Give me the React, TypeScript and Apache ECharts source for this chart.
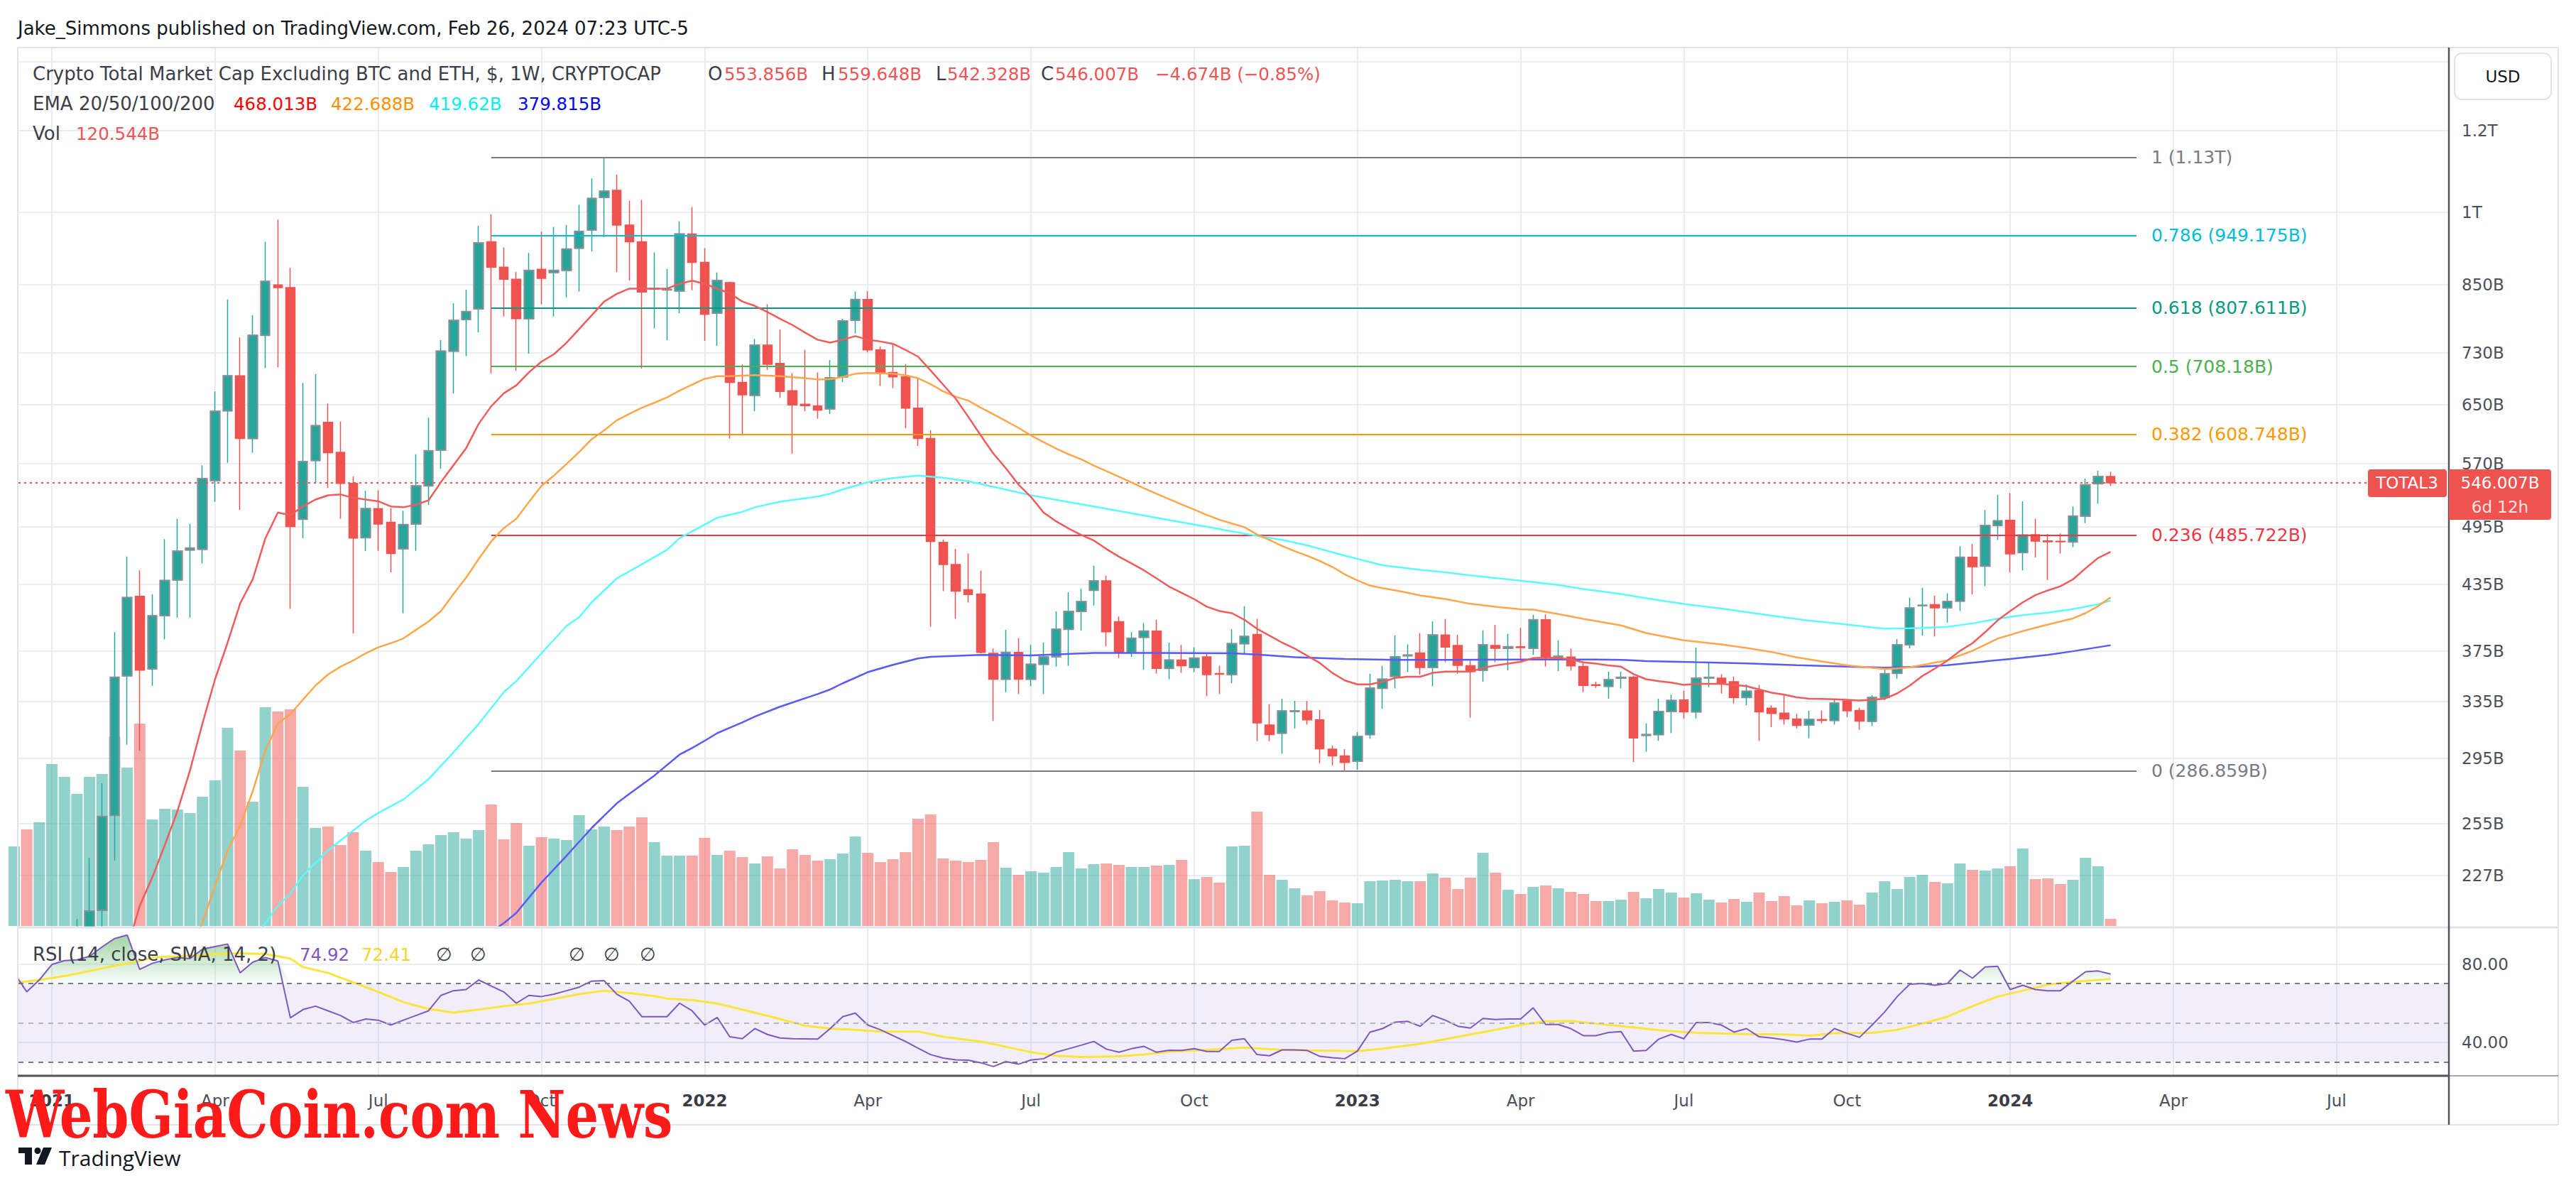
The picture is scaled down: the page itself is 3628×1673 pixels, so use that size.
import React, { useEffect, useRef } from "react";
import * as echarts from "echarts";

// ---------------- DATA (weekly bars, week index 0 = week of 14 Dec 2020) ----------------
const openB = [104,113,100,125,152,168,180,210,259.6,354.6,
423.6,360.2,405.7,439.4,470,470.7,548.9,641.5,693.5,603,
759.4,850,845,503.4,573.9,625,584.6,545.4,483,515.4,
500,471.2,498,542.3,587.5,733,786.7,805.7,935.9,884.4,
860.8,788.3,880,874,878,922.7,960.8,1033.5,1050,971.6,
935.9,842,840.5,838.6,952.4,893.9,798,854.4,683.4,664,
743,713.3,671,651,648.3,644.2,692,785.4,822.7,735,
699,692,645.4,603,478,454.8,430,425.8,373,352,
373.8,352,364,370,393.5,409.6,429.5,438.6,400.3,373.8,
386.6,391.9,360.6,367.4,361.3,370,356.5,355.6,381.1,389,
317.7,312,327.5,327.9,321.4,301,296.5,293,311,345,
354.3,371,373.3,361.3,388.6,379.6,362.8,359,379.6,377.2,
378.5,377.2,402.1,369.5,369.9,362.2,347.7,346.5,352.9,353.5,
310.5,311,327.5,336,327.2,353,352.8,350,337.9,343,
329.9,326.3,322.1,317.7,321.7,321,335.2,328.3,320.4,337.9,
356.7,380.2,415,415.8,412.9,419.2,462.4,453.2,496.3,502.1,
467.1,486.2,479.5,479.2,478.3,507,545,553.856];

const highB = [118,120,128,165,185,206,236,279,391,463,
449,425.6,481.4,504,498,567.8,669.9,822.6,755.6,794,
935.9,983.4,883,682.8,696.4,652,626,554,536.6,537,
516,513,582,631.5,751.3,816,841,969.6,995.4,924,
875,912.9,957.4,967.7,971.6,1017,1078.4,1130.9,1087.5,1026,
1028,914,881,980,1011.7,922.7,874,856,711.8,753.4,
814,769.4,697.8,735,699,718.5,787.8,837.4,838,740.5,
745.6,712,690,614,481,471,466.3,448.8,377,393,
385.8,380,382,409.6,427.6,430.8,453.6,443.6,405,391,
399,402,382,380,378,373.8,362.8,393.5,414.3,402.8,
333,336.9,335.4,335.4,328.6,303.5,301,312.9,356.3,362.8,
388.3,380.5,390.2,400.6,402.7,388.7,367.9,392.8,397.4,389.5,
394.8,406.4,406.8,384,376.8,365,350,357.9,357.9,354.8,
318.9,337,340,343,377.8,365.7,355.9,354.1,348,347.5,
331.9,339.6,325.8,328,328.3,336.2,336.6,330.2,339.6,360.1,
385.1,422.3,431.8,424.3,426.5,473.9,476.4,513.8,531.4,533.5,
524,504,487,487.6,518,551.3,561,559.648];

const lowB = [98,92,97,115,135,150,165,200,234.7,304,
300,346.8,384.8,404,404,455.9,523.5,571,514,584,
705.9,707,412,482.5,545,540,504,390,468.8,469,
447,407.8,469,519.8,563.7,667,725,764.6,697.4,792,
701.4,728.8,813.8,792,826.7,837.4,916,945.7,875,858.5,
704.9,771.3,751.3,798,840,750,741.8,603,607,641,
703,660.2,582.9,641,630,636.8,684,762.6,731,678,
675,616.9,593,395.7,428.6,402.8,417.8,373,320.7,342,
340.5,346.6,340.5,362,362.8,392.5,415,379,369,370,
359.6,356.5,352,357,357.7,339,340.5,348.8,373,306.5,
306.5,298,315.3,318,291.7,290.3,286.9,287.5,308.2,329.5,
345,357.7,355.7,346.5,365.7,356.3,323,350,365.7,359,
366.5,371.6,362,358.5,358.7,342,345.2,337,344.8,292.4,
299.4,306.7,312,322.3,322.4,345.7,340.8,333.4,332,306.7,
316.2,318,315.3,308.4,318.9,318,323.5,314.3,317,336,
352.4,377.2,388.1,387.3,399.5,410,425.6,433.3,480.5,446.8,
449,462.2,439.5,466.3,472.9,499,521.3,542.328];

const closeB = [113,100,125,152,168,180,209.6,259,353.5,422.5,
359.2,405.6,439,468.8,472,551.3,640.6,693.5,603,759.4,
856.6,845,495.2,572.7,620.4,584,545.4,482.5,515.4,498,
466.3,497.4,542.3,586.6,733,785,800.9,933.8,884.4,860.8,
788.3,878,862.6,878,920.7,958,1031,1048,971.6,935.9,
836.6,843.2,841.5,952.4,893.9,796.2,858.3,683.4,664.8,743,
711.8,669.9,650,649,642.5,690.7,784,822.7,735,699,
692,645.4,603,479,454.8,428.6,425.3,373.8,352,373.8,
352,364,370,393.5,409.6,418.7,438.6,391.3,373.5,385.8,
391.9,360.6,367.4,362.8,369,355.6,356,381.1,387.3,319.3,
311,327.9,328,321.4,301.3,296.5,292.2,309.6,345.1,352,
370,371.5,361.3,388.6,378.2,363,358,380.2,377.2,378.5,
377.8,402.1,369.1,370.5,362.6,347.1,347.1,351.6,353.5,308.7,
311,327.5,335.6,327.2,352.9,353.5,349.3,337.9,342.6,327.2,
326,322.1,317.5,321.7,321,333.6,328,320.5,337.9,356.3,
380.2,412.8,415.2,412.9,418.8,462.4,452.7,496.3,501.5,465.8,
485.9,479.3,478.5,478.6,507,543.6,553.9,546.007];

const volumeB = [1344,1632,1752,2736,2520,2232,2520,2568,3204,2676,
3420,1800,1980,1968,1908,2184,2460,3348,2964,2100,
3696,3624,3660,2352,1656,1680,1368,1584,1272,1080,
912,996,1272,1380,1536,1584,1476,1620,2052,1464,
1740,1356,1500,1476,1452,1872,1632,1680,1620,1680,
1836,1416,1188,1188,1188,1488,1200,1272,1164,1056,
1176,972,1296,1200,1104,1128,1224,1512,1236,1080,
1128,1248,1812,1884,1140,1104,1080,1116,1416,984,
864,924,900,996,1248,972,1044,1056,1032,996,
996,1020,1032,1116,792,828,732,1344,1356,1932,
864,780,636,516,588,432,396,384,756,768,
780,756,756,888,816,624,816,1236,900,612,
540,660,684,636,576,540,420,420,444,576,
468,624,564,480,552,444,396,456,408,564,
420,504,348,432,384,408,432,360,564,756,
624,828,864,744,720,1056,948,936,972,1008,
1308,792,804,708,780,1152,1008,120.5];

const ema20Start = 8;
const ema20 = [180,193,212,226,243,262,287,319,352,382,
417,440,482,511,508,518,526,531,532,528,
526,524,518,517,520,525,547,568,590,623,
648,667,679,699,716,728,747,770,794,819,
833,843,843,843,843,852,858,852,843,834,
819,811,800,788,777,764,752,747,752,758,
752,749,745,735,724,702,680,659,633,607,
583,564,544,529,511,501,493,486,480,471,
463,456,449,441,433,427,421,414,410,408,
402,394,388,382,377,371,365,357,351,348,
348,350,353,354,354,357,358,358,358,361,
363,364.5,366,369,369.5,369,368,365.5,364.5,363,
362,356,352,350.5,349.3,347.5,348.4,348.4,348.4,347.5,
346.6,344,341.5,340,338,337,336.8,336.5,336.2,335.6,
336.2,337,341,347,354.5,360.5,367,375,381.5,391,
401.5,410,418,424.8,429.3,433.3,440,451,461.6,468];

const ema50Pts = [[14,190],[15,204.5],[16,222],[17,240],[18,253.6],[19,274],[20,300],[21,318.9],[22,325.5],[23,336.3],[24,347],[25,355.8],[26,362],[27,367],[28,373],[29,378],[30,381.5],[31,385.6],[32,393],[33,400.5],[34,410],[35,426],[36,441.7],[37,460.5],[38,479],[39,493.5],[40,504],[41,523],[42,542.3],[43,555],[44,569.5],[45,585],[46,602],[47,614],[48,628],[49,637],[50,646],[51,653],[52,661],[53,671],[54,680],[55,689],[56,693],[57,693],[59,694.8],[61,693],[63,690],[64,688],[65,688.5],[66,692],[67,696.8],[68,698],[70,696.8],[71,694.5],[72,690],[73,681],[74,670],[75,662],[76,656.3],[77,646],[78,636.5],[79,627],[80,617.5],[81,607],[82,598],[83,589.5],[84,582],[85,575.5],[86,567.5],[87,560.5],[88,553.5],[89,546.5],[90,539.5],[91,532.8],[92,526.5],[93,520.3],[94,514.3],[95,508.3],[96,502.8],[97,498.6],[98,494.5],[99,486.5],[100,480.5],[101,474.1],[102,468.7],[103,463.9],[104,458.5],[105,452.5],[106,445],[107,439],[108,434],[109,431.5],[110,429.5],[111,427],[112,424.5],[114,421.1],[116,416.6],[118,413.8],[120,411.6],[121,411.2],[123,407.2],[125,402.9],[128,397],[130,390.3],[133,384],[136,380.5],[138,377.5],[140,374.1],[142,369.6],[144,366.3],[146,363.1],[148,361],[149,360.2],[150,360.6],[151,361.5],[152,363.4],[154,367.3],[156,375.1],[158,385.4],[160,392],[162,397.8],[164,403.2],[165,408],[166,414.5],[167,422.7]];

const ema100Pts = [[19,196],[20,204],[21,212],[22,218],[23,227],[25,240],[26,245.5],[28,256.5],[29,261],[31,269],[33,281.5],[35,299],[36,308.7],[37,318.5],[39,342],[40,350.5],[42,373],[44,396.5],[45,404.3],[46,418],[48,441],[50,455.2],[52,470],[53,482.5],[55,497.3],[56,505],[58,511.7],[59,517],[61,523.5],[64,529.5],[65,533],[66,538],[68,546.8],[70,551.9],[72,555],[74,552.3],[76,548],[78,541.2],[81,531],[84,523],[86,518],[90,507.5],[93,500],[97,490],[99,485],[101,480.7],[103,474.8],[106,464],[109,454.1],[112,449.5],[114,447],[116,444],[120,438.7],[123,434.6],[125,430.6],[128,425.9],[130,421.8],[133,416.5],[136,412.3],[138,409],[140,405.8],[143,401.2],[145,399],[148,395.3],[149,394.2],[151,394.5],[152,394.8],[154,395.8],[156,398.8],[158,403],[160,406.2],[162,408.5],[164,411.8],[166,416.2],[167,419.6]];

const ema200Pts = [[37,196],[39,204],[40,208.8],[42,223.4],[44,237.2],[46,252.4],[47,259.5],[48,266.7],[49,272.4],[51,283.8],[53,297.4],[54,301.8],[55,306.7],[56,312],[58,319.6],[59,323.8],[61,331],[64,340.5],[65,344],[66,348.8],[68,357.6],[70,363.5],[72,368.7],[73,370],[77,371.6],[81,371.2],[86,373.3],[91,373.3],[97,373],[99,372],[102,369.7],[106,368.3],[110,367.5],[114,367.6],[120,367.9],[126,367.9],[128,367.6],[130,366.6],[134,365.6],[138,364.7],[142,363.2],[146,362],[149,361.2],[152,362],[154,363.2],[156,365.3],[159,368.3],[162,371.7],[164,374.7],[167,379.8]];

const rsi14 = [75.5,65.8,71.9,79.8,81.8,82.2,84,88.8,93.1,94.9,
77.3,80.4,82.2,83.4,82.8,87.6,89,90.3,75.5,81,
83.4,81.6,52.5,56.7,58.5,56.1,53.7,50.1,51.9,51.3,
48.8,51.3,53.7,56.1,64,66.4,67,71.9,68.8,65.8,
60,64,63.4,64.6,66.4,68.2,71.3,71.5,64.6,61,
53.1,53.1,53.1,60,56.1,48.8,52.7,42.8,41.8,47,
44,42.2,41.8,41.7,41.6,47,53.1,54.9,48.8,46.4,
43.4,40.4,37,33.7,31.9,31,30.8,29.5,27.6,30.1,
28.8,30.9,31.6,34.9,36.7,38.5,40.4,36.5,34.9,36.7,
37.9,34.9,35.9,35.8,36.7,35.3,35.3,41,41.8,33.7,
33.1,36.1,36.1,35.8,32.8,32.1,31.6,35.5,45.2,47,
50.3,50.7,48.2,53.7,51.3,48.2,47.3,52.2,51.6,51.9,
51.9,57.6,49.1,49.1,47,43.4,43.4,45,45.5,35.5,
35.8,41.6,44,41.8,50.1,50.1,48.8,45.2,47,42.8,
42.2,41.3,40.1,41.6,41.6,47,44.6,42.5,48.8,55.5,
63.4,69.7,70.1,69.2,70.1,77,72.8,78.5,78.9,67,
69.2,67,66.4,66.4,71.3,76.1,76.5,74.9];

const rsiSmaPts = [[0,70.4],[2,71.9],[4,73.9],[6,76.5],[8,79.2],[10,81.5],[11,83.4],[13,84],[15,84.6],[16,85.2],[18,85.5],[20,85.2],[22,82.8],[23,78.5],[25,75.5],[27,70.7],[29,65.8],[31,60.6],[33,57.1],[35,55.2],[37,56.7],[39,58.5],[41,59.8],[43,62.2],[45,64.6],[47,66.4],[49,65.2],[51,63.6],[52,62.4],[54,61.6],[56,59.8],[58,56.7],[61,51.9],[63,48.5],[65,47],[67,46.4],[69,45.5],[72,45.5],[74,42.8],[77,40.4],[79,37.7],[81,34.9],[83,33.1],[85,32.5],[88,32.8],[90,33.7],[92,35.2],[95,36.1],[98,37.3],[101,36.1],[103,35.8],[107,35.5],[109,36.7],[112,39.2],[115,42.8],[117,45.2],[120,48.8],[122,50.7],[124,50.9],[126,49.5],[129,47.6],[131,46.2],[134,44.8],[138,44.2],[141,44],[143,43.4],[145,44.6],[148,44.8],[150,46.4],[152,49.5],[154,53.1],[156,58.5],[158,63.4],[160,66.4],[162,69.5],[164,70.9],[167,72.4]];

const fibLevels = ["1", "0.786", "0.618", "0.5", "0.382", "0.236", "0"];
const fibPricesB = [1130, 949.175, 807.611, 708.18, 608.748, 485.722, 286.859];
const fibPriceText = ["1.13T", "949.175B", "807.611B", "708.18B", "608.748B", "485.722B", "286.859B"];
const fibStartWeek = 38;
const fibEndWeek = 169.06;

const priceTickB = [1400, 1200, 1000, 850, 730, 650, 570, 495, 435, 375, 335, 295, 255, 227];
const priceTickText = ["1.4T", "1.2T", "1T", "850B", "730B", "650B", "570B", "495B", "435B", "375B", "335B", "295B", "255B", "227B"];
const priceLabelB = [1200, 1000, 850, 730, 650, 570, 495, 435, 375, 335, 295, 255, 227];

const timeTickWeeks = [3, 16, 29, 42, 55, 68, 81, 94, 107, 120, 133, 146, 159, 172, 185];
const timeTickText = ["2021", "Apr", "Jul", "Oct", "2022", "Apr", "Jul", "Oct", "2023", "Apr", "Jul", "Oct", "2024", "Apr", "Jul"];

const rsiTicks = [40, 80];
const rsiBands = [70, 50, 30];

const lastOHLC = { o: "553.856B", h: "559.648B", l: "542.328B", c: "546.007B", chg: "−4.674B (−0.85%)" };
const emaLast = ["468.013B", "422.688B", "419.62B", "379.815B"];
const volLast = "120.544B";
const rsiLast = ["74.92", "72.41"];

// ---------------- LAYOUT / STYLE ----------------
const W = 3628, H = 1673;
const FONT = "'DejaVu Sans', 'Open Sans', sans-serif";
const GRID_L = 26, AXIS_X = 3449, RIGHT_EDGE = 3603;
const BAR0_X = 20, BAR_STEP = 17.68;
const X_MIN = (GRID_L - BAR0_X) / BAR_STEP;
const X_MAX = (AXIS_X - BAR0_X) / BAR_STEP;
const P_TOP = 67, P_BOT = 1306, R_BOT = 1515, T_BOT = 1584;
const PRICE_MIN = 202.1, PRICE_MAX = 1444.9;
const RSI_MIN = 22.83, RSI_MAX = 98.8;

const UP = "#26a69a", DOWN = "#ef5350";
const GRID_C = "#e3e9ef";
const LABEL_C = "#4c4f5a";
const fibColors = ["#787b86", "#00bcd4", "#089981", "#4caf50", "#ff9800", "#f23645", "#787b86"];

export default function App() {
  const ref = useRef<HTMLDivElement>(null);

  useEffect(() => {
    const el = ref.current;
    if (!el) return;
    const chart = echarts.init(el, null, { renderer: "svg", width: W, height: H });
    const L = Math.log;
    const lnMin = L(PRICE_MIN), lnMax = L(PRICE_MAX);
    const cl = (v: number) => Math.max(L(v), lnMin);

    const idx = openB.map((_, i) => i).filter((i) => highB[i] > PRICE_MIN);
    const candles = idx.map((i) => [i, cl(openB[i]), cl(closeB[i]), cl(lowB[i]), cl(highB[i])]);
    const upBodies = idx.filter((i) => closeB[i] >= openB[i]).map((i) => [i, cl(openB[i]), cl(closeB[i]), cl(openB[i]), cl(closeB[i])]);
    const vols = volumeB.map((v, i) => ({
      value: [i, v],
      itemStyle: { color: closeB[i] >= openB[i] ? "rgba(38,166,154,0.5)" : "rgba(239,83,80,0.5)" },
    }));
    const lnPts = (pts: number[][]) => pts.map(([w, v]) => [w, L(v)]);
    const ema20Pts = ema20.map((v, k) => [ema20Start + k, L(v)]);

    const priceFmt = (v: number) => {
      const k = priceTickB.findIndex((p) => Math.abs(L(p) - v) < 1e-6);
      return k >= 0 ? priceTickText[k] : "";
    };
    const timeFmt = (v: number) => {
      const k = timeTickWeeks.indexOf(Math.round(v));
      if (k < 0) return "";
      const t = timeTickText[k];
      return /^\d{4}$/.test(t) ? `{y|${t}}` : t;
    };

    const xAxes = [0, 1, 2].map((g) => ({
      type: "value",
      gridIndex: g,
      min: X_MIN,
      max: X_MAX,
      axisLine: { show: false },
      axisTick: { show: false, customValues: timeTickWeeks },
      axisLabel:
        g === 2
          ? {
              show: true,
              customValues: timeTickWeeks,
              formatter: timeFmt,
              margin: 23,
              fontSize: 23,
              fontFamily: FONT,
              color: LABEL_C,
              rich: { y: { fontSize: 23, fontFamily: FONT, fontWeight: "bold", color: "#3a3d47" } },
            }
          : { show: false },
      splitLine: { show: g !== 1, lineStyle: { color: GRID_C, width: 1.5 } },
    }));

    const fibLines = fibPricesB.map((p, k) => [
      {
        coord: [fibStartWeek, L(p)],
        lineStyle: { color: fibColors[k], width: 2, type: "solid" },
        label: {
          show: true,
          position: "end",
          distance: 21,
          formatter: `${fibLevels[k]} (${fibPriceText[k]})`,
          color: fibColors[k],
          fontSize: 25,
          fontFamily: FONT,
        },
      },
      { coord: [fibEndWeek, L(p)] },
    ]);
    const lastClose = closeB[closeB.length - 1];
    const priceLine = [
      [
        { coord: [X_MIN, L(lastClose)], lineStyle: { color: DOWN, width: 2, type: [3, 5] }, label: { show: false } },
        { coord: [187.5, L(lastClose)] },
      ],
    ];

    const emaLine = (name: string, data: number[][], color: string, z: number) => ({
      name,
      type: "line",
      xAxisIndex: 0,
      yAxisIndex: 0,
      data,
      showSymbol: false,
      symbol: "none",
      lineStyle: { color, width: 2.5 },
      z,
      silent: true,
    });

    const option: any = {
      animation: false,
      backgroundColor: "#ffffff",
      textStyle: { fontFamily: FONT },
      grid: [
        { left: GRID_L, right: W - AXIS_X, top: P_TOP, height: P_BOT - P_TOP },
        { left: GRID_L, right: W - AXIS_X, top: 904, height: 400 },
        { left: GRID_L, right: W - AXIS_X, top: P_BOT, height: R_BOT - P_BOT },
      ],
      xAxis: xAxes,
      yAxis: [
        {
          type: "value",
          gridIndex: 0,
          position: "right",
          min: lnMin,
          max: lnMax,
          axisLine: { show: false },
          axisTick: { show: false, customValues: priceTickB.map(L) },
          axisLabel: { customValues: priceLabelB.map(L), formatter: priceFmt, margin: 18, fontSize: 23, fontFamily: FONT, color: LABEL_C },
          splitLine: { show: true, lineStyle: { color: GRID_C, width: 1.5 } },
        },
        { type: "value", gridIndex: 1, min: 0, max: 4800, show: false, splitLine: { show: false } },
        {
          type: "value",
          gridIndex: 2,
          position: "right",
          min: RSI_MIN,
          max: RSI_MAX,
          axisLine: { show: false },
          axisTick: { show: false, customValues: rsiTicks },
          axisLabel: { customValues: rsiTicks, formatter: (v: number) => v.toFixed(2), margin: 18, fontSize: 23, fontFamily: FONT, color: LABEL_C },
          splitLine: { show: true, lineStyle: { color: GRID_C, width: 1.5 } },
        },
      ],
      series: [
        { name: "Vol", type: "bar", xAxisIndex: 1, yAxisIndex: 1, data: vols, barWidth: 16, z: 1, silent: true },
        {
          name: "TOTAL3",
          type: "candlestick",
          xAxisIndex: 0,
          yAxisIndex: 0,
          data: candles,
          barWidth: 13,
          z: 3,
          silent: true,
          itemStyle: { color: UP, color0: DOWN, borderColor: UP, borderColor0: DOWN, borderWidth: 1.5 },
        },
        {
          name: "upBodies",
          type: "candlestick",
          xAxisIndex: 0,
          yAxisIndex: 0,
          data: upBodies,
          barWidth: 13,
          z: 4,
          silent: true,
          itemStyle: { color: UP, color0: UP, borderColor: "#8b8e97", borderColor0: "#8b8e97", borderWidth: 2 },
        },
        emaLine("EMA200", lnPts(ema200Pts), "#5a5af7", 5),
        emaLine("EMA100", lnPts(ema100Pts), "#5cfafa", 6),
        emaLine("EMA50", lnPts(ema50Pts), "#ffa64d", 7),
        emaLine("EMA20", ema20Pts, "#f25b5b", 8),
        {
          name: "fib",
          type: "line",
          xAxisIndex: 0,
          yAxisIndex: 0,
          data: [],
          z: 9,
          silent: true,
          markLine: { silent: true, symbol: ["none", "none"], animation: false, data: [...fibLines, ...priceLine] },
        },
        {
          name: "rsiBand",
          type: "line",
          xAxisIndex: 2,
          yAxisIndex: 2,
          data: [],
          z: 1,
          silent: true,
          markArea: { silent: true, itemStyle: { color: "rgba(126,87,194,0.1)" }, data: [[{ yAxis: 30 }, { yAxis: 70 }]] },
          markLine: {
            silent: true,
            symbol: ["none", "none"],
            label: { show: false },
            data: rsiBands.map((b) => ({
              yAxis: b,
              lineStyle: { color: b === 50 ? "#b2b5be" : "#787b86", width: 2, type: [7, 7] },
            })),
          },
        },
        {
          name: "rsiOB",
          type: "line",
          xAxisIndex: 2,
          yAxisIndex: 2,
          data: rsi14.map((v, i) => [i, Math.max(v, 70)]),
          showSymbol: false,
          symbol: "none",
          lineStyle: { width: 0, opacity: 0 },
          areaStyle: {
            origin: 70,
            color: new echarts.graphic.LinearGradient(0, 0, 0, 1, [
              { offset: 0, color: "rgba(76,175,80,0.75)" },
              { offset: 1, color: "rgba(76,175,80,0.04)" },
            ]),
          },
          z: 2,
          silent: true,
        },
        {
          name: "RSI SMA",
          type: "line",
          xAxisIndex: 2,
          yAxisIndex: 2,
          data: rsiSmaPts,
          showSymbol: false,
          symbol: "none",
          lineStyle: { color: "#fbe43c", width: 3 },
          z: 3,
          silent: true,
        },
        {
          name: "RSI",
          type: "line",
          xAxisIndex: 2,
          yAxisIndex: 2,
          data: rsi14.map((v, i) => [i, v]),
          showSymbol: false,
          symbol: "none",
          lineStyle: { color: "#7e57c2", width: 2 },
          z: 4,
          silent: true,
        },
      ],
    };

    chart.setOption(option);

    const py = (chart.convertToPixel({ gridIndex: 0 }, [0, L(lastClose)]) as number[])[1];

    const G: any[] = [];
    const ln = (x1: number, y1: number, x2: number, y2: number, stroke: string, lineWidth: number, z = 40) =>
      G.push({ type: "line", silent: true, z, shape: { x1, y1, x2, y2 }, style: { stroke, lineWidth } });
    const tx = (x: number, y: number, text: string, fill: string, extra: any = {}) =>
      G.push({
        type: "text",
        silent: true,
        z: 60,
        x,
        y,
        style: { text, fill, fontSize: 26, fontFamily: FONT, verticalAlign: "middle", align: "left", ...extra },
      });

    // frame
    ln(25, P_TOP, RIGHT_EDGE, P_TOP, "#e0e3eb", 2);
    ln(25, P_TOP, 25, T_BOT, "#e0e3eb", 2);
    ln(RIGHT_EDGE, P_TOP, RIGHT_EDGE, T_BOT, "#e0e3eb", 2);
    ln(25, T_BOT, RIGHT_EDGE, T_BOT, "#e0e3eb", 2);
    ln(25, P_BOT, RIGHT_EDGE, P_BOT, "#e0e3eb", 3);
    ln(25, R_BOT, AXIS_X, R_BOT, "#50535e", 3);
    ln(AXIS_X, R_BOT, RIGHT_EDGE, R_BOT, "#50535e", 1);
    ln(AXIS_X, P_TOP, AXIS_X, T_BOT, "#50535e", 2.5);

    // USD button
    G.push({ type: "rect", silent: true, z: 55, shape: { x: 3457, y: 75, width: 136, height: 65, r: 10 }, style: { fill: "#fff", stroke: "#e0e3eb", lineWidth: 2 } });
    tx(3525, 108, "USD", "#131722", { align: "center", fontSize: 23 });

    // header texts
    tx(25, 40, "Jake_Simmons published on TradingView.com, Feb 26, 2024 07:23 UTC-5", "#131722");
    tx(46, 104, "Crypto Total Market Cap Excluding BTC and ETH, $, 1W, CRYPTOCAP", "#3b3e48");
    const RED = "#f05454";
    const VS = { fontSize: 24.5 };
    tx(997, 104, "O", "#3b3e48"); tx(1020, 104, lastOHLC.o, RED, VS);
    tx(1157, 104, "H", "#3b3e48"); tx(1180, 104, lastOHLC.h, RED, VS);
    tx(1318, 104, "L", "#3b3e48"); tx(1334, 104, lastOHLC.l, RED, VS);
    tx(1466, 104, "C", "#3b3e48"); tx(1486, 104, lastOHLC.c, RED, VS);
    tx(1627, 104, lastOHLC.chg, RED, VS);
    tx(46, 146, "EMA 20/50/100/200", "#3b3e48");
    tx(329, 146, emaLast[0], "#ff0000", VS);
    tx(466, 146, emaLast[1], "#ff8f00", VS);
    tx(604, 146, emaLast[2], "#00f0f0", VS);
    tx(729, 146, emaLast[3], "#0000ff", VS);
    tx(46, 188, "Vol", "#3b3e48");
    tx(107, 188, volLast, RED, VS);

    // RSI legend
    tx(46, 1344, "RSI (14, close, SMA, 14, 2)", "#3b3e48");
    tx(422, 1344, rsiLast[0], "#7e57c2", VS);
    tx(509, 1344, rsiLast[1], "#f2d821", VS);
    [614, 662, 801, 850, 901].forEach((x) => tx(x, 1344, "∅", "#3b3e48"));

    // last price labels
    G.push({ type: "rect", silent: true, z: 55, shape: { x: 3335, y: py - 19, width: 111, height: 39, r: 4 }, style: { fill: DOWN } });
    tx(3390, py, "TOTAL3", "#ffffff", { align: "center", fontSize: 23 });
    G.push({ type: "rect", silent: true, z: 55, shape: { x: AXIS_X, y: py - 19, width: 144, height: 71, r: [0, 4, 4, 0] }, style: { fill: DOWN } });
    tx(AXIS_X + 72, py, lastOHLC.c, "#ffffff", { align: "center", fontSize: 23 });
    tx(AXIS_X + 72, py + 34, "6d 12h", "rgba(255,255,255,0.85)", { align: "center", fontSize: 23 });

    // TradingView logo
    G.push({ type: "rect", silent: true, z: 60, shape: { x: 26, y: 1616, width: 19, height: 8 }, style: { fill: "#131722" } });
    G.push({ type: "rect", silent: true, z: 60, shape: { x: 35, y: 1616, width: 10, height: 24 }, style: { fill: "#131722" } });
    G.push({ type: "circle", silent: true, z: 60, shape: { cx: 53, cy: 1620.5, r: 4.5 }, style: { fill: "#131722" } });
    G.push({ type: "polygon", silent: true, z: 60, shape: { points: [[61, 1616], [73, 1616], [63, 1640], [51, 1640]] }, style: { fill: "#131722" } });
    tx(83, 1630, "TradingView", "#131722", { fontSize: 30, fontFamily: "'Open Sans', sans-serif" });

    // watermark
    G.push({
      type: "text",
      silent: true,
      z: 200,
      x: 8,
      y: 1569,
      scaleX: 0.885,
      style: {
        text: "WebGiaCoin.com News",
        fill: "#ff1a1a",
        fontSize: 92,
        fontWeight: "bold",
        fontFamily: "'DejaVu Serif Condensed', 'DejaVu Serif', serif",
        verticalAlign: "middle",
        align: "left",
      },
    });

    chart.setOption({ graphic: { elements: G } });

    return () => chart.dispose();
  }, []);

  return <div ref={ref} style={{ position: "fixed", left: 0, top: 0, width: W, height: H, background: "#fff" }} />;
}
